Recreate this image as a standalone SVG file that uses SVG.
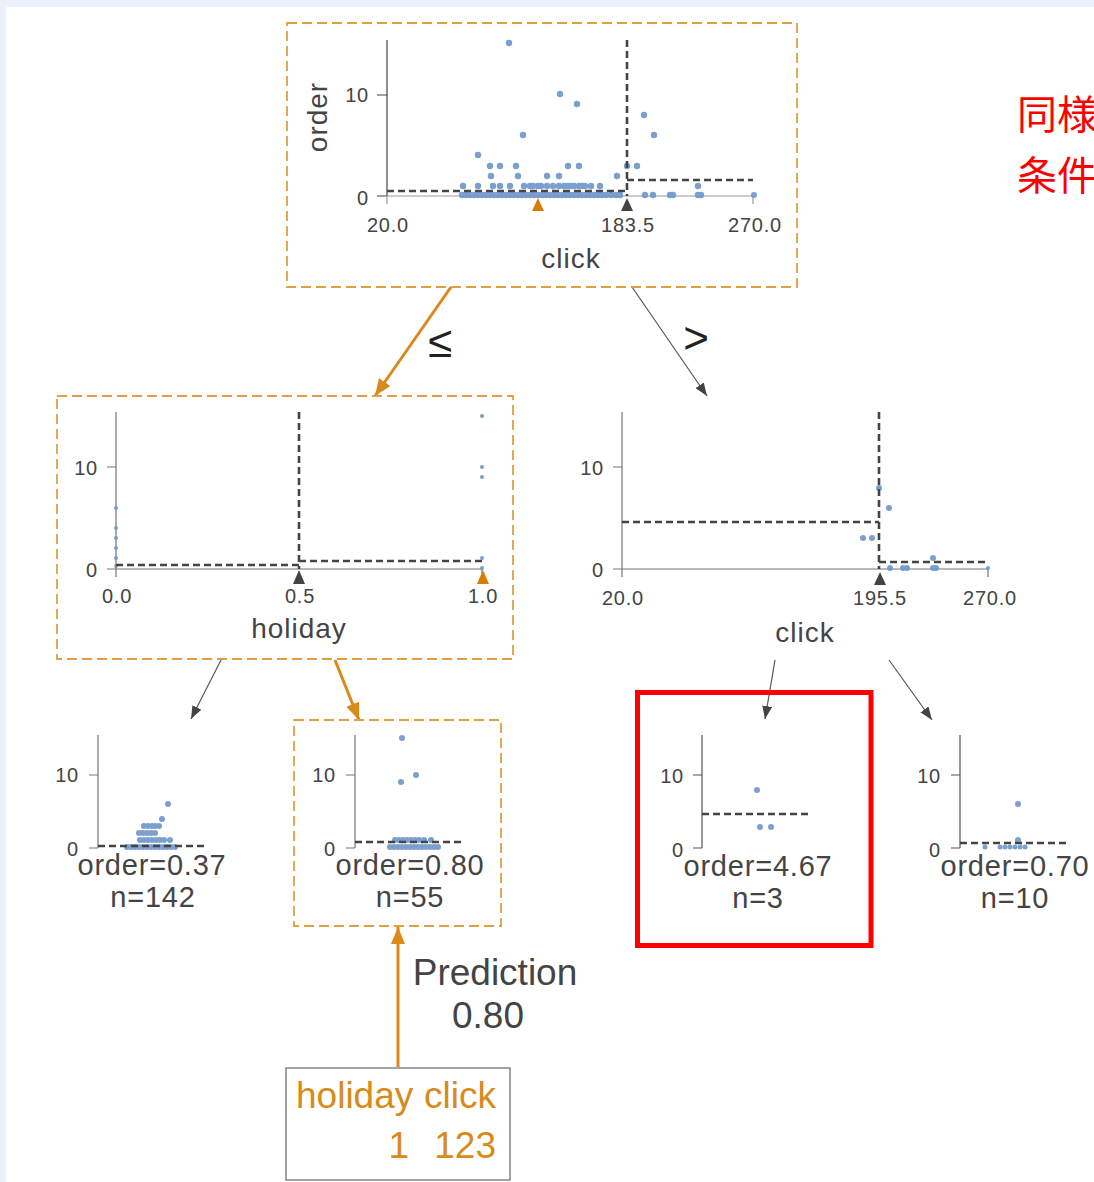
<svg xmlns="http://www.w3.org/2000/svg" width="1094" height="1182" viewBox="0 0 1094 1182">
<style>
.box{fill:none;stroke:#e0a040;stroke-width:1.8;stroke-dasharray:10 5}
.ax{stroke:#777;stroke-width:1.2;fill:none}
.dash{stroke:#444;stroke-width:2.6;stroke-dasharray:7 4;fill:none}
.dot{fill:#6d96cb;opacity:0.9}
text{font-family:"Liberation Sans",Arial,sans-serif;fill:#444}
.tk{font-size:20px;letter-spacing:0.8px}
.lbl{font-size:28px;letter-spacing:1px}
.leaf{font-size:29px;letter-spacing:0.8px;text-anchor:middle}
.org{fill:#d88a1a}
.tri-o{fill:#d97d0a}
.tri-d{fill:#444}
.eg{stroke:#555;stroke-width:1.2;fill:none}
.eo{stroke:#d98a1a;stroke-width:3;fill:none}
</style>
<defs>
<marker id="ag" markerUnits="userSpaceOnUse" markerWidth="13" markerHeight="10" refX="13" refY="5" orient="auto"><path d="M0,0 L13,5 L0,10 z" fill="#444"/></marker>
<marker id="ao" markerUnits="userSpaceOnUse" markerWidth="17" markerHeight="14" refX="17" refY="7" orient="auto"><path d="M0,0 L17,7 L0,14 z" fill="#d98a1a"/></marker>
</defs>
<rect x="0" y="0" width="1094" height="1182" fill="#eaf1fa"/>
<rect x="6" y="7" width="1088" height="1175" fill="#ffffff"/>

<g id="edges">
<path class="eo" d="M451,287 L375,396" marker-end="url(#ao)"/>
<path class="eg" d="M632,287 L707,396" marker-end="url(#ag)"/>
<path class="eg" d="M221,660 L191,719" marker-end="url(#ag)"/>
<path class="eo" d="M335,660 L359,720" marker-end="url(#ao)"/>
<path class="eg" d="M775,660 L765,719" marker-end="url(#ag)"/>
<path class="eg" d="M889,660 L932,720" marker-end="url(#ag)"/>
<path class="eo" d="M398,1067 L398,927" marker-end="url(#ao)"/>
<text x="440" y="357" font-size="44" style="fill:#222" text-anchor="middle">≤</text>
<text x="696" y="353" font-size="44" style="fill:#222" text-anchor="middle">&gt;</text>
<text x="495" y="985" font-size="37" text-anchor="middle">Prediction</text>
<text x="488" y="1028" font-size="37" text-anchor="middle">0.80</text>
</g>

<g id="node-root">
<rect class="box" x="287" y="23" width="510" height="264"/>
<path class="ax" d="M387,40 V196 M377,95 H387 M377,196 H387" style="stroke:#444"/>
<path class="ax" d="M387,196 H753 M387,196 V204 M753,196 V204" style="stroke:#999"/>
<g class="dot">
<circle cx="509" cy="43" r="3.2"/><circle cx="560" cy="94" r="3.2"/><circle cx="577" cy="104" r="3.2"/><circle cx="523" cy="135" r="3.2"/><circle cx="644" cy="115" r="3.2"/><circle cx="654" cy="135" r="3.2"/><circle cx="478" cy="155" r="3.2"/>
<circle cx="490" cy="166" r="3.2"/><circle cx="500" cy="166" r="3.2"/><circle cx="516" cy="166" r="3.2"/><circle cx="568" cy="166" r="3.2"/><circle cx="579" cy="166" r="3.2"/><circle cx="627" cy="166" r="3.2"/><circle cx="637" cy="166" r="3.2"/>
<circle cx="491" cy="176" r="3.2"/><circle cx="518" cy="176" r="3.2"/><circle cx="547" cy="176" r="3.2"/><circle cx="559" cy="176" r="3.2"/><circle cx="617" cy="176" r="3.2"/>
<circle cx="463" cy="186" r="3.2"/><circle cx="478" cy="186" r="3.2"/><circle cx="493" cy="186" r="3.2"/><circle cx="500" cy="186" r="3.2"/><circle cx="510" cy="186" r="3.2"/><circle cx="524" cy="186" r="3.2"/><circle cx="530" cy="186" r="3.2"/><circle cx="533" cy="186" r="3.2"/><circle cx="538" cy="186" r="3.2"/><circle cx="541" cy="186" r="3.2"/><circle cx="547" cy="186" r="3.2"/><circle cx="553" cy="186" r="3.2"/><circle cx="559" cy="186" r="3.2"/><circle cx="564" cy="186" r="3.2"/><circle cx="568" cy="186" r="3.2"/><circle cx="571" cy="186" r="3.2"/><circle cx="574" cy="186" r="3.2"/><circle cx="579" cy="186" r="3.2"/><circle cx="582" cy="186" r="3.2"/><circle cx="585" cy="186" r="3.2"/><circle cx="591" cy="186" r="3.2"/><circle cx="600" cy="186" r="3.2"/><circle cx="698" cy="186" r="3.2"/>
<circle cx="462" cy="195" r="3.2"/><circle cx="466" cy="195" r="3.2"/><circle cx="470" cy="195" r="3.2"/><circle cx="474" cy="195" r="3.2"/><circle cx="478" cy="195" r="3.2"/><circle cx="482" cy="195" r="3.2"/><circle cx="486" cy="195" r="3.2"/><circle cx="490" cy="195" r="3.2"/><circle cx="494" cy="195" r="3.2"/><circle cx="498" cy="195" r="3.2"/><circle cx="502" cy="195" r="3.2"/><circle cx="506" cy="195" r="3.2"/><circle cx="510" cy="195" r="3.2"/><circle cx="514" cy="195" r="3.2"/><circle cx="518" cy="195" r="3.2"/><circle cx="522" cy="195" r="3.2"/><circle cx="526" cy="195" r="3.2"/><circle cx="530" cy="195" r="3.2"/><circle cx="534" cy="195" r="3.2"/><circle cx="538" cy="195" r="3.2"/><circle cx="542" cy="195" r="3.2"/><circle cx="546" cy="195" r="3.2"/><circle cx="550" cy="195" r="3.2"/><circle cx="554" cy="195" r="3.2"/><circle cx="558" cy="195" r="3.2"/><circle cx="562" cy="195" r="3.2"/><circle cx="566" cy="195" r="3.2"/><circle cx="570" cy="195" r="3.2"/><circle cx="574" cy="195" r="3.2"/><circle cx="578" cy="195" r="3.2"/><circle cx="582" cy="195" r="3.2"/><circle cx="586" cy="195" r="3.2"/><circle cx="590" cy="195" r="3.2"/><circle cx="594" cy="195" r="3.2"/><circle cx="598" cy="195" r="3.2"/><circle cx="602" cy="195" r="3.2"/><circle cx="606" cy="195" r="3.2"/><circle cx="611" cy="195" r="3.2"/><circle cx="616" cy="195" r="3.2"/><circle cx="620" cy="195" r="3.2"/>
<circle cx="645" cy="195" r="3.2"/><circle cx="653" cy="195" r="3.2"/><circle cx="670" cy="195" r="3.2"/><circle cx="673" cy="195" r="3.2"/><circle cx="698" cy="195" r="3.2"/><circle cx="701" cy="195" r="3.2"/><circle cx="754" cy="195" r="3"/>
</g>
<path class="dash" d="M627,40 V196 M387,191 H627 M627,180 H753"/>
<path class="tri-o" d="M538,198 L544,211 L532,211 z"/>
<path class="tri-d" d="M627,198 L633,211 L621,211 z"/>
<text class="tk" x="369" y="102" text-anchor="end">10</text>
<text class="tk" x="369" y="205" text-anchor="end">0</text>
<text class="tk" x="388" y="232" text-anchor="middle">20.0</text>
<text class="tk" x="628" y="232" text-anchor="middle">183.5</text>
<text class="tk" x="755" y="232" text-anchor="middle">270.0</text>
<text class="lbl" x="571" y="268" text-anchor="middle">click</text>
<text class="lbl" transform="translate(327,117) rotate(-90)" text-anchor="middle">order</text>
</g>

<g id="node-holiday">
<rect class="box" x="57" y="396" width="456" height="263"/>
<path class="ax" d="M116,412 V569 M107,467 H116 M107,569 H116 M116,569 H482 M116,569 V577 M482,569 V577"/>
<g class="dot">
<circle cx="116" cy="508" r="2"/><circle cx="116" cy="528" r="2"/><circle cx="116" cy="538" r="2"/><circle cx="116" cy="548" r="2"/><circle cx="116" cy="558" r="2"/><circle cx="116" cy="566" r="2"/>
<circle cx="482" cy="416" r="2"/><circle cx="482" cy="467" r="2"/><circle cx="482" cy="477" r="2"/><circle cx="482" cy="558" r="2"/><circle cx="482" cy="568" r="2"/>
</g>
<path class="dash" d="M299,412 V569 M116,565 H299 M299,561 H482"/>
<path class="tri-d" d="M299,570 L305,584 L293,584 z"/>
<path class="tri-o" d="M483,570 L489,584 L477,584 z"/>
<text class="tk" x="98" y="475" text-anchor="end">10</text>
<text class="tk" x="98" y="577" text-anchor="end">0</text>
<text class="tk" x="117" y="603" text-anchor="middle">0.0</text>
<text class="tk" x="300" y="603" text-anchor="middle">0.5</text>
<text class="tk" x="483" y="603" text-anchor="middle">1.0</text>
<text class="lbl" x="299" y="638" text-anchor="middle">holiday</text>
</g>

<g id="node-click2">
<path class="ax" d="M622,412 V569 M613,467 H622 M613,569 H622 M622,569 H988 M622,569 V577 M988,569 V577"/>
<g class="dot">
<circle cx="879" cy="488" r="3"/><circle cx="889" cy="508" r="3"/><circle cx="863" cy="538" r="3"/><circle cx="872" cy="538" r="3"/><circle cx="933" cy="558" r="3"/>
<circle cx="890" cy="568" r="3"/><circle cx="903" cy="568" r="3"/><circle cx="907" cy="568" r="3"/><circle cx="933" cy="568" r="3"/><circle cx="936" cy="568" r="3"/><circle cx="988" cy="568" r="2"/>
</g>
<path class="dash" d="M879,412 V569 M622,522 H879 M879,562 H988"/>
<path class="tri-d" d="M880,572 L886,585 L874,585 z"/>
<text class="tk" x="604" y="475" text-anchor="end">10</text>
<text class="tk" x="604" y="577" text-anchor="end">0</text>
<text class="tk" x="623" y="605" text-anchor="middle">20.0</text>
<text class="tk" x="880" y="605" text-anchor="middle">195.5</text>
<text class="tk" x="990" y="605" text-anchor="middle">270.0</text>
<text class="lbl" x="805" y="642" text-anchor="middle">click</text>
</g>

<g id="leaf-1">
<path class="ax" d="M98,735 V848 M89,775 H98 M89,848 H98"/>
<g class="dot">
<circle cx="168" cy="804" r="3"/><circle cx="162" cy="819" r="3"/>
<circle cx="144" cy="826" r="3"/><circle cx="148" cy="826" r="3"/><circle cx="152" cy="826" r="3"/><circle cx="155" cy="826" r="3"/><circle cx="159" cy="826" r="3"/>
<circle cx="139" cy="833" r="3"/><circle cx="143" cy="833" r="3"/><circle cx="147" cy="833" r="3"/><circle cx="151" cy="833" r="3"/><circle cx="155" cy="833" r="3"/>
<circle cx="140" cy="840" r="3"/><circle cx="144" cy="840" r="3"/><circle cx="148" cy="840" r="3"/><circle cx="152" cy="840" r="3"/><circle cx="156" cy="840" r="3"/><circle cx="160" cy="840" r="3"/><circle cx="164" cy="840" r="3"/><circle cx="170" cy="840" r="3"/>
<circle cx="127" cy="847" r="3"/><circle cx="131" cy="847" r="3"/><circle cx="135" cy="847" r="3"/><circle cx="139" cy="847" r="3"/><circle cx="143" cy="847" r="3"/><circle cx="147" cy="847" r="3"/><circle cx="151" cy="847" r="3"/><circle cx="155" cy="847" r="3"/><circle cx="159" cy="847" r="3"/><circle cx="163" cy="847" r="3"/><circle cx="167" cy="847" r="3"/><circle cx="171" cy="847" r="3"/><circle cx="175" cy="847" r="3"/>
</g>
<path class="dash" d="M98,846 H205"/>
<text class="tk" x="79" y="782" text-anchor="end">10</text>
<text class="tk" x="79" y="856" text-anchor="end">0</text>
<text class="leaf" x="152" y="875">order=0.37</text>
<text class="leaf" x="153" y="907">n=142</text>
</g>

<g id="leaf-2">
<rect class="box" x="294" y="720" width="207" height="206"/>
<path class="ax" d="M355,735 V848 M346,775 H355 M346,848 H355"/>
<g class="dot">
<circle cx="402" cy="738" r="3"/><circle cx="416" cy="775" r="3"/><circle cx="401" cy="782" r="3"/>
<circle cx="395" cy="840" r="3"/><circle cx="399" cy="840" r="3"/><circle cx="403" cy="840" r="3"/><circle cx="407" cy="840" r="3"/><circle cx="411" cy="840" r="3"/><circle cx="415" cy="840" r="3"/><circle cx="419" cy="840" r="3"/><circle cx="424" cy="840" r="3"/><circle cx="431" cy="840" r="3"/>
<circle cx="390" cy="847" r="3"/><circle cx="394" cy="847" r="3"/><circle cx="398" cy="847" r="3"/><circle cx="402" cy="847" r="3"/><circle cx="406" cy="847" r="3"/><circle cx="410" cy="847" r="3"/><circle cx="414" cy="847" r="3"/><circle cx="418" cy="847" r="3"/><circle cx="422" cy="847" r="3"/><circle cx="426" cy="847" r="3"/><circle cx="430" cy="847" r="3"/><circle cx="434" cy="847" r="3"/><circle cx="438" cy="847" r="3"/>
</g>
<path class="dash" d="M355,842 H461"/>
<text class="tk" x="336" y="782" text-anchor="end">10</text>
<text class="tk" x="336" y="856" text-anchor="end">0</text>
<text class="leaf" x="410" y="875">order=0.80</text>
<text class="leaf" x="410" y="907">n=55</text>
</g>

<g id="leaf-3">
<rect x="637.5" y="692.5" width="233.5" height="253" fill="none" stroke="#ff0000" stroke-width="5"/>
<path class="ax" d="M702,735 V848 M693,775 H702 M693,848 H702" style="stroke:#555"/>
<g class="dot">
<circle cx="757" cy="790" r="3"/><circle cx="760" cy="827" r="3"/><circle cx="771" cy="827" r="3"/>
</g>
<path class="dash" d="M702,814 H809"/>
<text class="tk" x="684" y="783" text-anchor="end">10</text>
<text class="tk" x="684" y="857" text-anchor="end">0</text>
<text class="leaf" x="758" y="876">order=4.67</text>
<text class="leaf" x="758" y="908">n=3</text>
</g>

<g id="leaf-4">
<path class="ax" d="M960,735 V848 M951,775 H960 M951,848 H960" style="stroke:#555"/>
<g class="dot">
<circle cx="1018" cy="804" r="3"/><circle cx="1018" cy="840" r="3"/>
<circle cx="985" cy="847" r="2.5"/><circle cx="1000" cy="847" r="2.5"/><circle cx="1005" cy="847" r="2.5"/><circle cx="1010" cy="847" r="2.5"/><circle cx="1015" cy="847" r="2.5"/><circle cx="1020" cy="847" r="2.5"/><circle cx="1025" cy="847" r="2.5"/>
</g>
<path class="dash" d="M960,843 H1066"/>
<text class="tk" x="941" y="783" text-anchor="end">10</text>
<text class="tk" x="941" y="857" text-anchor="end">0</text>
<text class="leaf" x="1015" y="876">order=0.70</text>
<text class="leaf" x="1015" y="908">n=10</text>
</g>

<g id="instance">
<rect x="286" y="1068" width="224" height="112" fill="#fff" stroke="#666" stroke-width="1.2"/>
<text class="org" x="296" y="1108" font-size="37">holiday</text>
<text class="org" x="496" y="1108" font-size="37" text-anchor="end">click</text>
<text class="org" x="409" y="1158" font-size="37" text-anchor="end">1</text>
<text class="org" x="496" y="1158" font-size="37" text-anchor="end">123</text>
</g>

<g id="note">
<text x="1017" y="129" font-size="40" style="fill:#ff0000;font-family:'Noto Sans CJK JP','Noto Sans CJK SC',sans-serif">同様</text>
<text x="1017" y="190" font-size="40" style="fill:#ff0000;font-family:'Noto Sans CJK JP','Noto Sans CJK SC',sans-serif">条件</text>
</g>
</svg>
